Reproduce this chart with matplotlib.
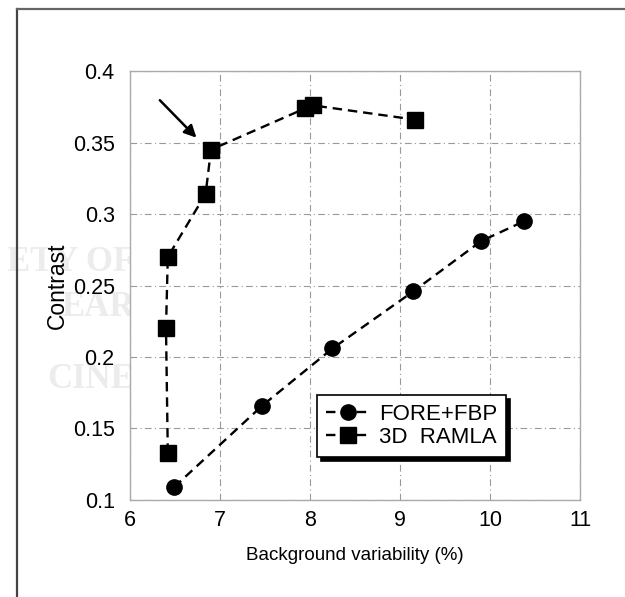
import matplotlib.pyplot as plt
from matplotlib.lines import Line2D

plt.rcParams['font.family'] = ['Liberation Sans', 'DejaVu Sans']

# background variability (%) vs contrast
fore_x = [6.49, 7.47, 8.25, 9.15, 9.90, 10.38]
fore_y = [0.109, 0.166, 0.206, 0.246, 0.281, 0.295]
ramla_x = [6.42, 6.40, 6.42, 6.84, 6.90, 7.95, 8.03, 9.17]
ramla_y = [0.133, 0.220, 0.270, 0.314, 0.345, 0.374, 0.376, 0.366]
xticks = [6, 7, 8, 9, 10, 11]
yticks = [0.1, 0.15, 0.2, 0.25, 0.3, 0.35, 0.4]
ytick_labels = ['0.1', '0.15', '0.2', '0.25', '0.3', '0.35', '0.4']

fig = plt.figure(figsize=(6.25, 5.97), dpi=100)
ax = fig.add_axes([0.208, 0.1625, 0.72, 0.7185])

# page frame
fig.add_artist(Line2D([0.0272, 0.0272], [0, 0.985], color='#444444', lw=1.6))
fig.add_artist(Line2D([0.0272, 1], [0.985, 0.985], color='#666666', lw=1.6))

# faint watermark behind the axes
for txt, yy in [('ETY OF', 0.56), ('EAR', 0.485), ('CINE', 0.365)]:
    fig.text(0.215, yy, txt, ha='right', va='center', fontsize=25, fontweight='bold',
             family='Liberation Serif', color='#ececec', zorder=-5)

dash = (0, (4, 2.5))
ax.plot(fore_x, fore_y, color='black', lw=1.7, linestyle=dash,
        marker='o', markersize=11, label='FORE+FBP')
ax.plot(ramla_x, ramla_y, color='black', lw=1.7, linestyle=dash,
        marker='s', markersize=12, label='3D  RAMLA')

ax.annotate('', xy=(6.76, 0.352), xytext=(6.31, 0.381),
            arrowprops=dict(arrowstyle='-|>', color='black', lw=1.8, mutation_scale=18))

ax.set_xlim(6, 11)
ax.set_ylim(0.1, 0.4)
ax.set_xticks(xticks)
ax.set_yticks(yticks)
ax.set_yticklabels(ytick_labels)
ax.tick_params(length=0, labelsize=15.5)
ax.tick_params(axis='y', pad=11)
ax.tick_params(axis='x', pad=7)
ax.grid(True, color='#999999', linestyle=(0, (6, 3, 1, 3)), lw=0.8)
for s in ax.spines.values():
    s.set_color('#aaaaaa')
    s.set_linewidth(1.0)

ax.set_xlabel('Background variability (%)', fontsize=13.5, labelpad=12)
ax.set_ylabel('Contrast', fontsize=16.5, labelpad=3)

leg = ax.legend(loc='lower left', bbox_to_anchor=(0.415, 0.1), fontsize=16,
                fancybox=False, edgecolor='black', framealpha=1,
                shadow={'color': 'black', 'alpha': 1, 'ox': 3, 'oy': -3},
                handlelength=2.0, handletextpad=0.4, borderpad=0.4,
                labelspacing=0.1, borderaxespad=0)
leg.get_frame().set_linewidth(1.2)

fig.savefig('out.png', dpi=100)
